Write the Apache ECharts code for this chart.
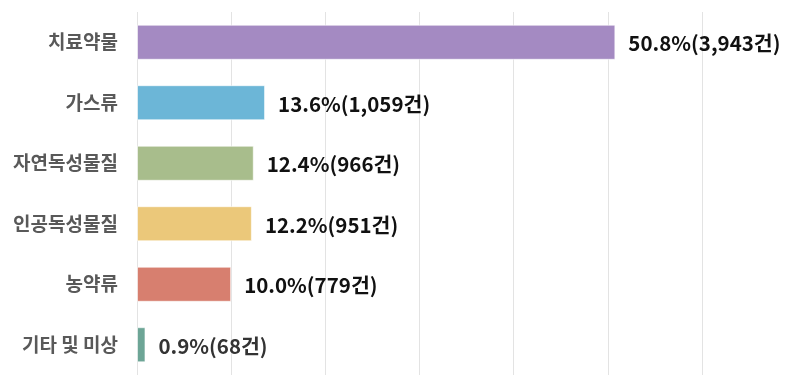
<!DOCTYPE html>
<html>
<head>
<meta charset="utf-8">
<script src="https://cdn.jsdelivr.net/npm/echarts@6/dist/echarts.min.js"></script>
<style>
html,body{margin:0;padding:0;background:#fff;}
#chart{width:790px;height:385px;}
</style>
</head>
<body>
<div id="chart"></div>
<script>
var categories = ['치료약물', '가스류', '자연독성물질', '인공독성물질', '농약류', '기타 및 미상'];
var percents = [50.8, 13.6, 12.4, 12.2, 10.0, 0.9];
var counts = ['3,943', '1,059', '966', '951', '779', '68'];
var colors = ['#a48ac2', '#6cb6d7', '#a8bd8c', '#ebc87a', '#d77f6f', '#6da596'];
var labelColors = ['#111111', '#111111', '#111111', '#111111', '#111111', '#333333'];

var chart = echarts.init(document.getElementById('chart'));
chart.setOption({
  animation: false,
  grid: { left: 137, right: 88, top: 12, bottom: 10, containLabel: false },
  xAxis: {
    type: 'value', min: 0, max: 60, interval: 10,
    axisLabel: { show: false }, axisLine: { show: false }, axisTick: { show: false },
    splitLine: { show: true, lineStyle: { color: '#e3e3e3', width: 1 } }
  },
  yAxis: {
    type: 'category', data: categories, inverse: true,
    axisLine: { show: false }, axisTick: { show: false },
    axisLabel: {
      margin: 19, color: '#595959', fontSize: 19, fontWeight: 'bold',
      fontFamily: 'Noto Sans CJK KR'
    }
  },
  series: [{
    type: 'bar',
    barWidth: '58%',
    data: percents.map(function (v, i) {
      return {
        value: v,
        itemStyle: { color: colors[i], borderColor: 'rgba(255,255,255,0.6)', borderWidth: 1 },
        label: { color: labelColors[i] }
      };
    }),
    label: {
      show: true, position: 'right', distance: 13,
      fontSize: 20.5, fontWeight: 'bold', fontFamily: 'Noto Sans CJK KR',
      offset: [0, 1],
      formatter: function (p) { return p.value.toFixed(1) + '%(' + counts[p.dataIndex] + '건)'; }
    }
  }]
});
</script>
</body>
</html>
